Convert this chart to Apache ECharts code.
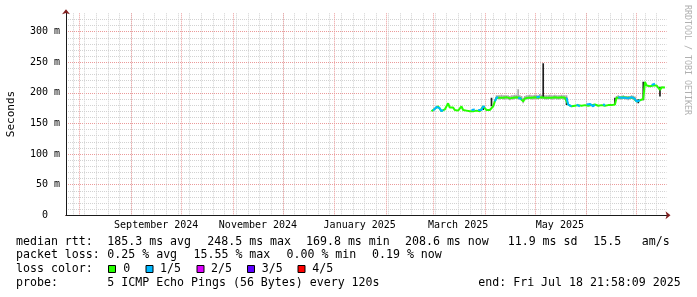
<!DOCTYPE html>
<html><head><meta charset="utf-8">
<script src="https://cdn.jsdelivr.net/npm/echarts@6/dist/echarts.min.js"></script>
<style>html,body{margin:0;padding:0;background:#fff}#c{width:697px;height:297px}</style>
</head><body><div id="c"></div>
<script>
// ---- data (milliseconds) ----
const rangeStart = '2024-07-23T21:58:09';
const rangeEnd = '2025-07-18T21:58:09';
const firstDataDay = '2025-02-28';
// daily median rtt in ms, from 2025-02-28 to 2025-07-18
const medianMs = [
  170,171,174,177,178,175,170,172,173,172,183,
  176,174,176,172,174,171,173,178,172,174,
  171,173,170,172,169.8,173,171,172,170,172,
  178,177,172,171,172,171,178,186,192,193,
  192,193,192,192,193,192,191,192,192,193,
  193,192,192,190,186,191,192,192,193,192,
  192,193,193,192,194,193,193,192,192,192,
  193,192,192,193,192,192,192,193,192,192,
  192,181,180,178,177,179,181,180,178,179,
  176,180,181,179,182,180,178,181,180,179,
  181,180,182,179,181,180,181,180,182,181,
  192,193,192,192,193,192,192,191,192,193,
  192,190,186,184,188,185,190,218,212,210,
  211,213,212,215,212,211,205,209,210,208.6
];
// lost pings out of 5, per day
const lossFifths = [
  0,1,1,1,0,1,1,0,0,0,0,
  0,0,0,0,0,0,0,0,0,0,
  0,0,0,1,1,0,0,1,1,1,
  1,0,0,0,0,0,0,1,1,0,
  0,0,0,0,0,0,0,0,0,0,
  0,1,1,0,0,0,0,0,0,0,
  0,0,1,1,0,0,0,0,0,0,
  0,0,0,0,0,0,0,0,0,0,
  1,1,1,0,0,0,1,1,0,0,
  0,0,1,1,1,1,1,0,0,0,
  0,0,1,0,0,0,0,0,0,0,
  0,1,1,1,1,0,1,1,1,1,
  1,1,1,1,0,0,0,0,0,0,
  0,1,1,0,0,0,0,0,0,1
];
// upper edge of the visible ping smoke (ms), per day; null = hidden under the median
const smokeUpperMs = [
  null,null,null,null,null,null,null,null,null,null,null,
  null,null,null,null,null,null,null,null,null,null,
  null,null,null,null,null,null,null,null,null,null,
  null,null,null,null,null,null,null,null,196,196,
  196,197,196,196,196,196,195,196,196,197,
  197,206,196,195,192,195,196,196,197,196,
  196,197,197,196,198,197,197,196,196,196,
  197,196,196,197,196,196,196,197,196,196,
  196,null,null,null,null,null,null,null,null,null,
  null,null,null,null,null,null,null,null,null,null,
  null,null,null,null,null,null,null,null,null,null,
  195,196,195,195,196,195,195,195,195,196,
  195,194,null,null,null,null,null,null,null,null,
  null,null,null,null,null,null,null,null,null,null
];
// dense smoke streaks (ms)
const streakDays = ['2025-03-31','2025-04-05','2025-05-06','2025-05-20','2025-06-18','2025-07-02','2025-07-05','2025-07-15'];
const streakLowMs = [172,178,192,180,181,183,188,194];
const streakHighMs = [178,192,248.5,192,192,190,218,210];
// axis marks
const monthStarts = ['2024-08-01','2024-09-01','2024-10-01','2024-11-01','2024-12-01','2025-01-01','2025-02-01','2025-03-01','2025-04-01','2025-05-01','2025-06-01','2025-07-01'];
const labelDates = ['2024-09-16','2024-11-16','2025-01-16','2025-03-16','2025-05-16'];
const labelTexts = ['September 2024','November 2024','January 2025','March 2025','May 2025'];
const yTicksMs = [0,50,100,150,200,250,300];
const yTickLabels = ['0  ','50 m','100 m','150 m','200 m','250 m','300 m'];
const lossLegendLabels = ['0','1/5','2/5','3/5','4/5'];
const lossLegendColors = ['#26ff00','#00b8ff','#dd00ff','#5e00ff','#ff0000'];

// ---- build ----
const DAY = 86400000;
const t = s => new Date(s.length === 10 ? s + 'T00:00:00' : s).getTime();
const tMin = t(rangeStart), tMax = t(rangeEnd);
const day0 = t(firstDataDay);
const dayTime = i => day0 + i * DAY;
const sundays = [];
{ let d = new Date(tMin); d.setHours(0,0,0,0); d.setDate(d.getDate() + ((7 - d.getDay()) % 7 || 7));
  while (d.getTime() < tMax) { sundays.push(d.getTime()); d.setDate(d.getDate() + 7); } }

const greenData = medianMs.map((v, i) => [dayTime(i), v]);
const blueData = medianMs.map((v, i) => {
  const on = lossFifths[i] === 1 || (i > 0 && lossFifths[i-1] === 1);
  return [dayTime(i), on ? v : null];
});
const smokeData = [];
smokeUpperMs.forEach((u, i) => { if (u != null) smokeData.push([dayTime(i), medianMs[i] - 3, u]); });
const streakData = streakDays.map((d, i) => [t(d), streakLowMs[i], streakHighMs[i]]);

const FONT = 'DejaVu Sans Mono';
const GRAY = '#d2d2d2', RED = '#eb9a9a', AXIS = '#1a1a1a', ARROW = '#801f1f';

function rangeRender(color) {
  return function (params, api) {
    const x = api.value(0), lo = api.value(1), hi = api.value(2);
    const p0 = api.coord([x, lo]), p1 = api.coord([x, hi]);
    const w = Math.max(1.6, api.size([DAY, 0])[0]);
    return { type: 'rect', shape: { x: p1[0] - w / 2, y: p1[1], width: w, height: p0[1] - p1[1] }, style: { fill: color } };
  };
}

const labelMap = {};
labelDates.forEach((d, i) => labelMap[t(d)] = labelTexts[i]);
const yLabelMap = {};
yTicksMs.forEach((v, i) => yLabelMap[v] = yTickLabels[i]);

const graphic = [];
const txt = (x, y, s, size, extra) => graphic.push(Object.assign({ type: 'text', x, y, style: { text: s, font: size + 'px "' + FONT + '"', fill: '#000', verticalAlign: 'middle' } }, extra || {}));
const L = 11.6;
txt(16, 241.5, 'median rtt:', L); txt(107.3, 241.5, '185.3 ms avg', L); txt(207.3, 241.5, '248.5 ms max', L);
txt(306, 241.5, '169.8 ms min', L); txt(405, 241.5, '208.6 ms now', L); txt(507.7, 241.5, '11.9 ms sd', L);
txt(593.3, 241.5, '15.5', L); txt(641.7, 241.5, 'am/s', L);
txt(16, 255, 'packet loss:', L); txt(107.3, 255, '0.25 % avg', L); txt(193.5, 255, '15.55 % max', L);
txt(286.5, 255, '0.00 % min', L); txt(372, 255, '0.19 % now', L);
txt(16, 269, 'loss color:', L);
const boxX = [108.5, 146, 197, 247.5, 298];
const labX = [123.3, 160, 211, 261.7, 312.3];
lossLegendLabels.forEach((s, i) => {
  graphic.push({ type: 'rect', shape: { x: boxX[i], y: 265.5, width: 7, height: 7 }, style: { fill: lossLegendColors[i], stroke: '#000', lineWidth: 1 } });
  txt(labX[i], 269, s, L);
});
txt(16, 282.5, 'probe:', L); txt(107.3, 282.5, '5 ICMP Echo Pings (56 Bytes) every 120s', L);
txt(478.3, 282.5, 'end: Fri Jul 18 21:58:09 2025', L);
graphic.push({ type: 'text', x: 10.7, y: 114, rotation: Math.PI / 2, style: { text: 'Seconds', font: '11px "' + FONT + '"', fill: '#000', align: 'center', verticalAlign: 'middle' } });
graphic.push({ type: 'text', x: 687, y: 60, rotation: -Math.PI / 2, style: { text: 'RRDTOOL / TOBI OETIKER', font: '8.3px "' + FONT + '"', fill: '#b0b0b0', align: 'center', verticalAlign: 'middle' } });

const gridDef = { left: 66, right: 30.5, top: 13.3, bottom: 81.7, outerBoundsMode: 'none', containLabel: false };
const option = {
  animation: false,
  backgroundColor: '#ffffff',
  grid: gridDef,
  xAxis: [
    { type: 'value', position: 'bottom', min: tMin, max: tMax, scale: true,
      axisLine: { show: true, lineStyle: { color: ARROW, width: 1 }, symbol: ['none', 'arrow'], symbolSize: [6, 5], symbolOffset: [0, 4] },
      axisTick: { show: false, customValues: sundays }, axisLabel: { show: false },
      splitLine: { show: true, lineStyle: { color: GRAY, width: 1, type: [1, 1] } } },
    { type: 'value', position: 'bottom', min: tMin, max: tMax, scale: true,
      axisLine: { show: true, lineStyle: { color: AXIS, width: 1 } },
      axisTick: { show: false, customValues: monthStarts.map(t) },
      axisLabel: { show: true, customValues: labelDates.map(t), formatter: v => labelMap[v] || '', fontFamily: FONT, fontSize: 10, color: '#000', margin: 5, hideOverlap: false },
      splitLine: { show: true, lineStyle: { color: RED, width: 1, type: [1, 1] } } }
  ],
  yAxis: [
    { type: 'value', position: 'left', min: 0, max: 330, interval: 10,
      axisLine: { show: true, lineStyle: { color: ARROW, width: 1 }, symbol: ['none', 'arrow'], symbolSize: [6, 5], symbolOffset: [0, 4] },
      axisTick: { show: false }, axisLabel: { show: false },
      splitLine: { show: true, showMinLine: false, showMaxLine: false, lineStyle: { color: GRAY, width: 1, type: [1, 1] } } },
    { type: 'value', position: 'left', min: 0, max: 330, interval: 50,
      axisLine: { show: true, lineStyle: { color: AXIS, width: 1 } },
      axisTick: { show: false },
      axisLabel: { show: true, formatter: v => (yLabelMap[v] !== undefined ? yLabelMap[v] : ''), fontFamily: FONT, fontSize: 10, color: '#000', margin: 6, showMaxLabel: false },
      splitLine: { show: true, showMinLine: false, showMaxLine: false, lineStyle: { color: RED, width: 1, type: [1, 1] } } }
  ],
  series: [
    { type: 'custom', name: 'smoke', xAxisIndex: 1, yAxisIndex: 1, renderItem: rangeRender('#aaaaaa'),
      encode: { x: 0, y: [1, 2] }, data: smokeData, z: 2, silent: true, clip: true },
    { type: 'custom', name: 'streaks', xAxisIndex: 1, yAxisIndex: 1, renderItem: rangeRender('#1e1e1e'),
      encode: { x: 0, y: [1, 2] }, data: streakData, z: 3, silent: true, clip: true },
    { type: 'line', name: 'median', xAxisIndex: 1, yAxisIndex: 1, data: greenData, showSymbol: false, symbol: 'none',
      lineStyle: { color: lossLegendColors[0], width: 2 }, z: 4, silent: true },
    { type: 'line', name: 'median loss 1/5', xAxisIndex: 1, yAxisIndex: 1, data: blueData, showSymbol: false, symbol: 'none', connectNulls: false,
      lineStyle: { color: lossLegendColors[1], width: 2 }, z: 5, silent: true }
  ],
  graphic: graphic
};
const chart = echarts.init(document.getElementById('c'), null, { renderer: 'canvas', width: 697, height: 297 });
chart.setOption(option);
</script>
</body></html>
